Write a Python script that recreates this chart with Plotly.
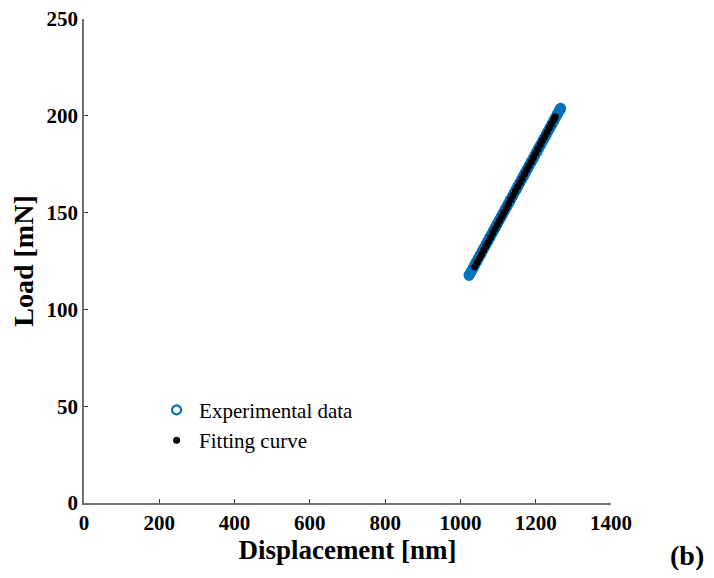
import plotly.graph_objects as go

# Experimental data (displacement nm, load mN)
exp_disp = [1023, 1028, 1033, 1038, 1043, 1048, 1053, 1058, 1063, 1068, 1073, 1078,
            1083, 1088, 1093, 1098, 1103, 1108, 1113, 1118, 1123, 1128, 1133, 1138,
            1143, 1148, 1153, 1158, 1163, 1168, 1173, 1178, 1183, 1188, 1193, 1198,
            1203, 1208, 1213, 1218, 1223, 1228, 1233, 1238, 1243, 1248, 1253, 1258,
            1263, 1266]
exp_load = [117.6, 119.4, 121.1, 122.9, 124.7, 126.5, 128.2, 130.0, 131.8, 133.6, 135.3, 137.1,
            138.9, 140.7, 142.4, 144.2, 146.0, 147.7, 149.5, 151.3, 153.1, 154.8, 156.6, 158.4,
            160.2, 161.9, 163.7, 165.5, 167.3, 169.0, 170.8, 172.6, 174.4, 176.1, 177.9, 179.7,
            181.4, 183.2, 185.0, 186.8, 188.5, 190.3, 192.1, 193.9, 195.6, 197.4, 199.2, 201.0,
            202.7, 203.8]

# Fitting curve
fit_disp = [1038, 1044, 1050, 1056, 1062, 1068, 1074, 1080, 1086, 1092, 1098, 1104,
            1110, 1116, 1122, 1128, 1134, 1140, 1146, 1152, 1158, 1164, 1170, 1176,
            1182, 1188, 1194, 1200, 1206, 1212, 1218, 1224, 1230, 1236, 1242, 1248, 1252]
fit_load = [122.0, 124.2, 126.3, 128.5, 130.7, 132.9, 135.0, 137.2, 139.4, 141.5, 143.7, 145.9,
            148.1, 150.2, 152.4, 154.6, 156.8, 158.9, 161.1, 163.3, 165.4, 167.6, 169.8, 172.0,
            174.1, 176.3, 178.5, 180.6, 182.8, 185.0, 187.2, 189.3, 191.5, 193.7, 195.9, 198.0, 199.5]

x_ticks = [0, 200, 400, 600, 800, 1000, 1200, 1400]
y_ticks = [0, 50, 100, 150, 200, 250]

FONT = "Liberation Serif"
BLUE = "#0072BD"

fig = go.Figure()
# dense overlapping circles appear as a solid band
fig.add_trace(go.Scatter(
    x=exp_disp, y=exp_load, mode="markers", showlegend=False, hoverinfo="skip",
    marker=dict(symbol="circle", size=10, color=BLUE),
))
fig.add_trace(go.Scatter(
    x=exp_disp, y=exp_load, mode="markers", name="Experimental data",
    marker=dict(symbol="circle-open", size=9, color=BLUE, line=dict(width=2.2, color=BLUE)),
))
fig.add_trace(go.Scatter(
    x=fit_disp, y=fit_load, mode="markers", name="Fitting curve",
    marker=dict(symbol="circle", size=7, color="black"),
))

axis_common = dict(
    showgrid=False, zeroline=False, showline=True, linecolor="#707070", linewidth=1.5,
    ticks="inside", ticklen=4, tickcolor="#333333", tickwidth=1,
    tickfont=dict(family=FONT, size=21, color="black", weight="bold"),
    mirror=False, automargin=False, ticklabeloverflow="allow",
)

fig.update_xaxes(range=[0, 1400], tickvals=x_ticks, ticktext=[str(v) for v in x_ticks],
                 title=dict(text="<b>Displacement [nm]</b>", font=dict(family=FONT, size=27, color="black"),
                            standoff=2),
                 **axis_common)
fig.update_yaxes(range=[0, 250], tickvals=y_ticks, ticktext=[str(v) for v in y_ticks],
                 title=dict(text="<b>Load [mN]</b>", font=dict(family=FONT, size=28, color="black"),
                            standoff=6),
                 **axis_common)

fig.add_annotation(text="<b>(b)</b>", xref="paper", yref="paper", x=1.18, y=-0.109,
                   xanchor="right", yanchor="middle", showarrow=False,
                   font=dict(family=FONT, size=28, color="black"))

# page body adds an 8px offset, so the figure is sized to fit inside the 714x578 window
fig.update_layout(
    width=698, height=562,
    margin=dict(l=76, r=95, t=11, b=67),
    paper_bgcolor="white", plot_bgcolor="white",
    font=dict(family=FONT, color="black"),
    legend=dict(x=0.133, y=0.234, xanchor="left", yanchor="top",
                font=dict(family=FONT, size=21, color="black"),
                bgcolor="rgba(0,0,0,0)", itemwidth=35, tracegroupgap=0),
)

fig.write_html("out.html")
